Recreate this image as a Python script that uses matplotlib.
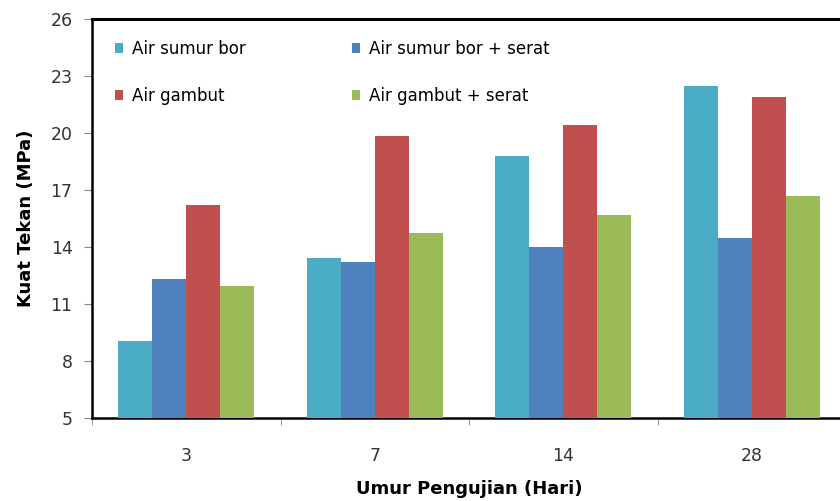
import matplotlib
matplotlib.use("Agg")
import matplotlib.pyplot as plt
import numpy as np
from matplotlib.patches import Patch

categories = ["3", "7", "14", "28"]
series_names = ["Air sumur bor", "Air sumur bor + serat", "Air gambut", "Air gambut + serat"]
air_sumur_bor = [9.05, 13.43, 18.8, 22.45]
air_sumur_bor_serat = [12.32, 13.2, 14.02, 14.48]
air_gambut = [16.2, 19.85, 20.41, 21.9]
air_gambut_serat = [11.93, 14.76, 15.71, 16.7]
colors = ["#4BACC6", "#4F81BD", "#C0504D", "#9BBB59"]
yticks = [5, 8, 11, 14, 17, 20, 23, 26]

plt.rcParams['font.family'] = ['DejaVu Sans']
fig = plt.figure(figsize=(8.4, 5.01), dpi=100)
ax = fig.add_axes([92/840, 83/501, 754/840, 399/501])

x = np.arange(len(categories))
w = 0.18
data = [air_sumur_bor, air_sumur_bor_serat, air_gambut, air_gambut_serat]
for i, (vals, c) in enumerate(zip(data, colors)):
    ax.bar(x + (i - 1.5) * w, np.array(vals) - 5, bottom=5, width=w, color=c, zorder=3)

ax.set_xlim(-0.5, 3.5)
ax.set_ylim(5, 26)
ax.set_yticks(yticks)
ax.set_yticklabels([str(t) for t in yticks], fontsize=12.5, color="#333333")
ax.set_xticks(x)
ax.set_xticklabels(categories, fontsize=12.5, color="#333333")
ax.tick_params(axis='x', which='major', length=0, pad=21)
ax.set_xticks(np.arange(-0.5, 4.0, 1.0), minor=True)
ax.tick_params(axis='x', which='minor', length=5, color="#888888")
ax.tick_params(axis='y', length=6, color="#888888", pad=8)

for s in ['left', 'top', 'bottom']:
    ax.spines[s].set_color('black')
ax.spines['left'].set_linewidth(1.8)
ax.spines['top'].set_linewidth(2.2)
ax.spines['bottom'].set_linewidth(1.8)
ax.spines['right'].set_visible(False)

ax.set_ylabel("Kuat Tekan (MPa)", fontsize=13, fontweight='bold', labelpad=11)
ax.set_xlabel("Umur Pengujian (Hari)", fontsize=13, fontweight='bold', labelpad=11)

order = [0, 2, 1, 3]
handles = [Patch(facecolor=colors[i], edgecolor='none') for i in order]
labels = [series_names[i] for i in order]
leg = ax.legend(handles, labels, ncol=2, frameon=False, loc='upper left',
                bbox_to_anchor=(0.0305, 0.948), fontsize=12,
                borderpad=0, borderaxespad=0,
                handlelength=0.5, handleheight=0.5, handletextpad=0.5,
                labelspacing=1.75, columnspacing=6.4)

fig.savefig("out.png", dpi=100)
